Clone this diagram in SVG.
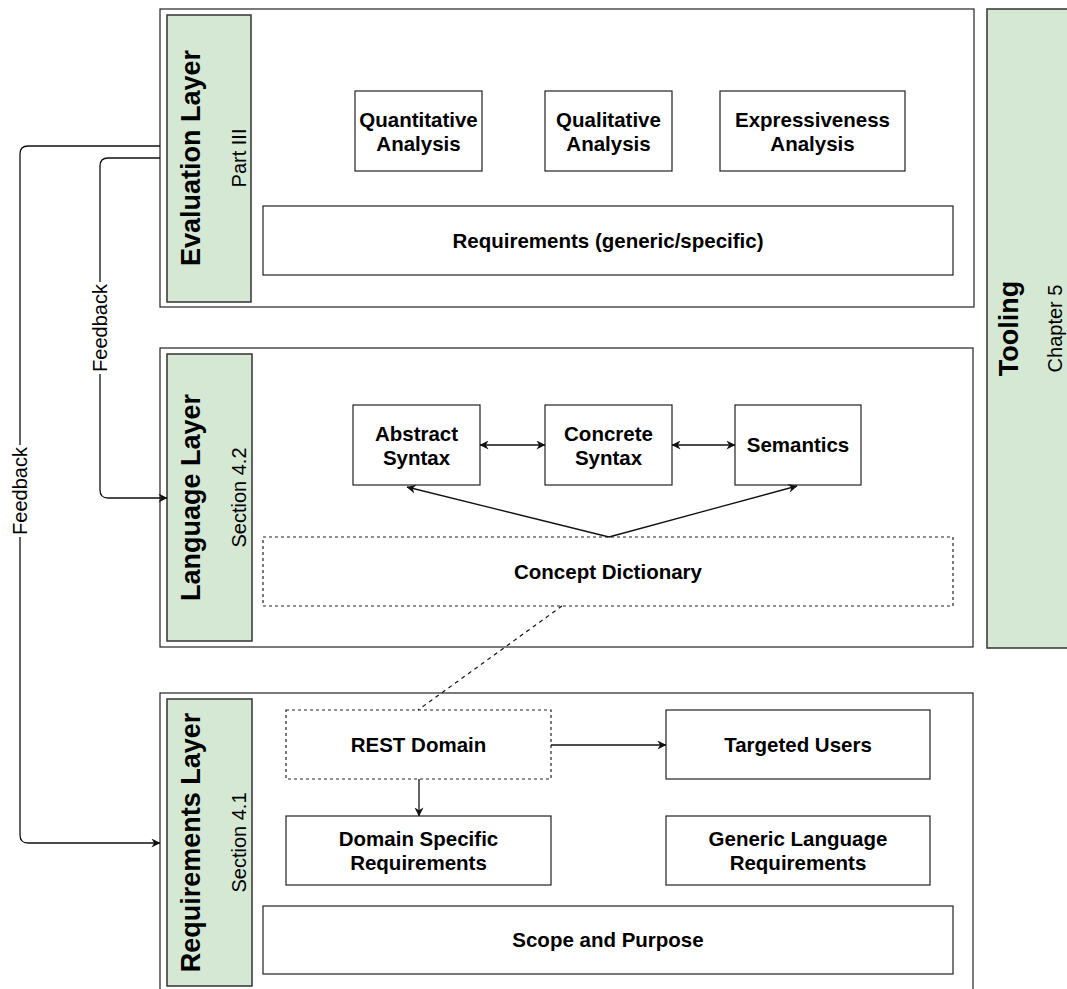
<svg xmlns="http://www.w3.org/2000/svg" width="1067" height="989" viewBox="0 0 1067 989">
<style>
.bg{fill:#ffffff}
.outer{fill:#ffffff;stroke:#222;stroke-width:1.2}
.side{fill:#d5e8d4;stroke:#333;stroke-width:1.5}
.box{fill:#ffffff;stroke:#222;stroke-width:1.2}
.dbox{fill:#ffffff;stroke:#222;stroke-width:1.2;stroke-dasharray:3,3}
.lbl{font-family:"Liberation Sans",Arial,sans-serif;font-size:20.5px;font-weight:bold;fill:#000;text-anchor:middle}
.ttl{font-family:"Liberation Sans",Arial,sans-serif;font-size:27px;font-weight:bold;fill:#000;text-anchor:middle}
.sub{font-family:"Liberation Sans",Arial,sans-serif;font-size:20px;fill:#000;text-anchor:middle}
.edge{fill:none;stroke:#111;stroke-width:1.3}
.dash{fill:none;stroke:#111;stroke-width:1.2;stroke-dasharray:4,4}
.fb{font-family:"Liberation Sans",Arial,sans-serif;font-size:20px;fill:#000;text-anchor:middle}
</style>
<defs>
<marker id="arr" viewBox="0 0 10 10" refX="9.5" refY="5" markerWidth="11" markerHeight="9" markerUnits="userSpaceOnUse" orient="auto-start-reverse">
<path d="M0,0 L10,5 L0,10 L3,5 Z" fill="#111"/>
</marker>
</defs>
<rect class="bg" x="0" y="0" width="1067" height="989"/>

<g id="evaluation-layer">
<rect class="outer" x="160" y="9" width="814" height="298"/>
<rect class="side" x="167" y="15" width="84" height="287"/>
<text class="ttl" transform="translate(200,158) rotate(-90)">Evaluation Layer</text>
<text class="sub" transform="translate(246,158) rotate(-90)">Part III</text>
</g>
<g id="quantitative-analysis">
<rect class="box" x="355" y="91" width="127" height="80"/>
<text class="lbl" x="418.5" y="127">Quantitative</text>
<text class="lbl" x="418.5" y="151">Analysis</text>
</g>
<g id="qualitative-analysis">
<rect class="box" x="545" y="91" width="127" height="80"/>
<text class="lbl" x="608.5" y="127">Qualitative</text>
<text class="lbl" x="608.5" y="151">Analysis</text>
</g>
<g id="expressiveness-analysis">
<rect class="box" x="720" y="91" width="185" height="80"/>
<text class="lbl" x="812.5" y="127">Expressiveness</text>
<text class="lbl" x="812.5" y="151">Analysis</text>
</g>
<g id="requirements-generic-specific">
<rect class="box" x="263" y="206" width="690" height="69"/>
<text class="lbl" x="608" y="247.5">Requirements (generic/specific)</text>
</g>

<g id="language-layer">
<rect class="outer" x="160" y="348" width="813" height="299"/>
<rect class="side" x="167" y="354" width="85" height="287"/>
<text class="ttl" transform="translate(200,497.5) rotate(-90)">Language Layer</text>
<text class="sub" transform="translate(246,497.5) rotate(-90)">Section 4.2</text>
</g>
<g id="abstract-syntax">
<rect class="box" x="353" y="405" width="127" height="80"/>
<text class="lbl" x="416.5" y="441">Abstract</text>
<text class="lbl" x="416.5" y="465">Syntax</text>
</g>
<g id="concrete-syntax">
<rect class="box" x="545" y="405" width="127" height="80"/>
<text class="lbl" x="608.5" y="441">Concrete</text>
<text class="lbl" x="608.5" y="465">Syntax</text>
</g>
<g id="semantics">
<rect class="box" x="735" y="405" width="126" height="80"/>
<text class="lbl" x="798" y="452">Semantics</text>
</g>
<g id="concept-dictionary">
<rect class="dbox" x="263" y="537" width="690" height="69"/>
<text class="lbl" x="608" y="578.5">Concept Dictionary</text>
</g>

<g id="requirements-layer">
<rect class="outer" x="160" y="693" width="813" height="302"/>
<rect class="side" x="167" y="699" width="85" height="287"/>
<text class="ttl" transform="translate(200,842.5) rotate(-90)">Requirements Layer</text>
<text class="sub" transform="translate(246,842.5) rotate(-90)">Section 4.1</text>
</g>
<g id="rest-domain">
<rect class="dbox" x="286" y="710" width="265" height="69"/>
<text class="lbl" x="418.5" y="751.5">REST Domain</text>
</g>
<g id="targeted-users">
<rect class="box" x="666" y="710" width="264" height="69"/>
<text class="lbl" x="798" y="751.5">Targeted Users</text>
</g>
<g id="domain-specific-requirements">
<rect class="box" x="286" y="816" width="265" height="69"/>
<text class="lbl" x="418.5" y="846">Domain Specific</text>
<text class="lbl" x="418.5" y="870">Requirements</text>
</g>
<g id="generic-language-requirements">
<rect class="box" x="666" y="816" width="264" height="69"/>
<text class="lbl" x="798" y="846">Generic Language</text>
<text class="lbl" x="798" y="870">Requirements</text>
</g>
<g id="scope-and-purpose">
<rect class="box" x="263" y="906" width="690" height="68"/>
<text class="lbl" x="608" y="947">Scope and Purpose</text>
</g>

<g id="tooling">
<rect class="side" x="987" y="9" width="90" height="639"/>
<text class="ttl" transform="translate(1018,328.5) rotate(-90)">Tooling</text>
<text class="sub" transform="translate(1062,328.5) rotate(-90)">Chapter 5</text>
</g>

<g id="connectors">
<path class="edge" d="M160,146 L28,146 Q20,146 20,154 L20,835 Q20,843 28,843 L160,843" marker-end="url(#arr)"/>
<path class="edge" d="M160,158 L108,158 Q100,158 100,166 L100,490 Q100,498 108,498 L167,498" marker-end="url(#arr)"/>
<rect x="10" y="445" width="20" height="92" fill="#ffffff"/>
<text class="fb" transform="translate(27,491) rotate(-90)">Feedback</text>
<rect x="90" y="282" width="20" height="92" fill="#ffffff"/>
<text class="fb" transform="translate(107,328) rotate(-90)">Feedback</text>
<path class="edge" d="M480,445 L545,445" marker-start="url(#arr)" marker-end="url(#arr)"/>
<path class="edge" d="M672,445 L735,445" marker-start="url(#arr)" marker-end="url(#arr)"/>
<path class="edge" d="M609,537 L407,487" marker-end="url(#arr)"/>
<path class="edge" d="M609,537 L797,486" marker-end="url(#arr)"/>
<path class="dash" d="M562,606 L418,710"/>
<path class="edge" d="M551,745 L666,745" marker-end="url(#arr)"/>
<path class="edge" d="M419,779 L419,816" marker-end="url(#arr)"/>
</g>
</svg>
